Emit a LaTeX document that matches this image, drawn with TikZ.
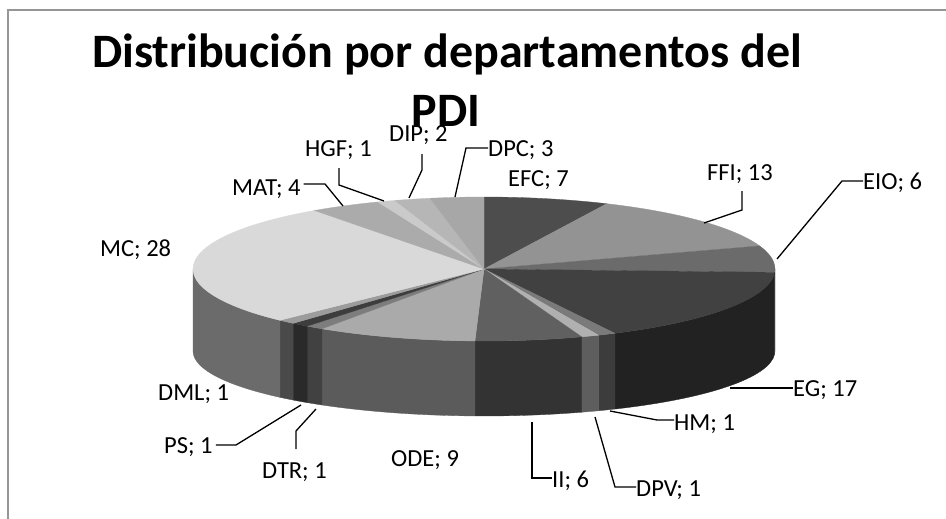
\documentclass[tikz,border=0pt]{standalone}
\usepackage{fontspec}
\setmainfont{Carlito}
\newfontfamily\titlefont{Carlito}
\usetikzlibrary{calc}
\definecolor{framecol}{HTML}{969696}
\definecolor{tEFC}{HTML}{4D4D4D}
\definecolor{tFFI}{HTML}{939393}
\definecolor{tEIO}{HTML}{6B6B6B}
\definecolor{tEG}{HTML}{414141}
\definecolor{tHM}{HTML}{7A7A7A}
\definecolor{tDPV}{HTML}{B0B0B0}
\definecolor{tII}{HTML}{606060}
\definecolor{tODE}{HTML}{AAAAAA}
\definecolor{tDTR}{HTML}{7D7D7D}
\definecolor{tPS}{HTML}{3D3D3D}
\definecolor{tDML}{HTML}{9C9C9C}
\definecolor{tMC}{HTML}{D9D9D9}
\definecolor{tMAT}{HTML}{ABABAB}
\definecolor{tHGF}{HTML}{CACACA}
\definecolor{tDIP}{HTML}{B6B6B6}
\definecolor{tDPC}{HTML}{A7A7A7}
\definecolor{sEIO}{HTML}{4B4B4B}
\definecolor{sEG}{HTML}{222222}
\definecolor{sHM}{HTML}{3C3C3C}
\definecolor{sDPV}{HTML}{5E5E5E}
\definecolor{sII}{HTML}{333333}
\definecolor{sODE}{HTML}{5B5B5B}
\definecolor{sDTR}{HTML}{414141}
\definecolor{sPS}{HTML}{2A2A2A}
\definecolor{sDML}{HTML}{4A4A4A}
\definecolor{sMC}{HTML}{6B6B6B}
\begin{document}
\begin{tikzpicture}[x=1pt,y=-1pt,
  lbl/.style={font=\fontsize{24.5}{28}\selectfont, inner sep=0pt, anchor=base west},
  ttl/.style={font=\titlefont\bfseries\fontsize{48}{54}\selectfont, inner sep=0pt, anchor=base},
  leader/.style={draw=black, line width=1.3pt},
  ]
\def\cx{484}\def\cy{269}\def\rx{291}\def\ry{72}\def\by{351}\def\bry{65}
\useasboundingbox (0,0) rectangle (946,519);
\fill[white] (0,0) rectangle (946,519);
\draw[framecol, line width=2pt] (946,10) -- (8,10) -- (8,519);
% side faces
\foreach \a/\b/\col in {0/2.673/sEIO, 2.673/63.267/sEG, 63.267/66.832/sHM, 66.832/70.396/sDPV,
  70.396/91.782/sII, 91.782/123.861/sODE, 123.861/127.426/sDTR, 127.426/130.990/sPS,
  130.990/134.554/sDML, 134.554/180/sMC}{
  \fill[\col, draw=\col, line width=0.3pt] ({\cx+\rx*cos(\a)},{\cy+\ry*sin(\a)})
    arc[start angle=\a, end angle=\b, x radius=\rx, y radius=\ry]
    -- ({\cx+\rx*cos(\b)},{\by+\bry*sin(\b)})
    arc[start angle=\b, end angle=\a, x radius=\rx, y radius=\bry] -- cycle;
}
% top faces
\foreach \a/\b/\col in {-90/-65.050/tEFC, -65.050/-18.713/tFFI, -18.713/2.673/tEIO,
  2.673/63.267/tEG, 63.267/66.832/tHM, 66.832/70.396/tDPV, 70.396/91.782/tII,
  91.782/123.861/tODE, 123.861/127.426/tDTR, 127.426/130.990/tPS, 130.990/134.554/tDML,
  134.554/234.356/tMC, 234.356/248.614/tMAT, 248.614/252.178/tHGF, 252.178/259.307/tDIP,
  259.307/270/tDPC}{
  \fill[\col, draw=\col, line width=0.3pt] (\cx,\cy) -- ({\cx+\rx*cos(\a)},{\cy+\ry*sin(\a)})
    arc[start angle=\a, end angle=\b, x radius=\rx, y radius=\ry] -- cycle;
}
% title
\node[ttl] (title1) at (447,68) {Distribución por departamentos del};
\node[ttl] (title2) at (446,126) {PDI};
% labels
\node[lbl] (lDIP) at (389,141) {DIP; 2};
\node[lbl] (lHGF) at (305,156) {HGF; 1};
\node[lbl] (lDPC) at (488,156) {DPC; 3};
\node[lbl] (lEFC) at (508,186) {EFC; 7};
\node[lbl] (lFFI) at (707,180) {FFI; 13};
\node[lbl] (lEIO) at (863,189) {EIO; 6};
\node[lbl] (lMAT) at (232,195) {MAT; 4};
\node[lbl] (lMC) at (100,256) {MC; 28};
\node[lbl] (lDML) at (158,400) {DML; 1};
\node[lbl] (lPS) at (164,453) {PS; 1};
\node[lbl] (lDTR) at (262,478) {DTR; 1};
\node[lbl] (lODE) at (391,466) {ODE; 9};
\node[lbl] (lII) at (552,487) {II; 6};
\node[lbl] (lDPV) at (636,496) {DPV; 1};
\node[lbl] (lHM) at (674,430) {HM; 1};
\node[lbl] (lEG) at (793,396) {EG; 17};
% leader end points
\coordinate (pFFI) at (704,223);
\coordinate (pEIO) at (777,259);
\coordinate (pEG) at (730,388);
\coordinate (pHM) at (610,411);
\coordinate (pDPV) at (595,417);
\coordinate (pII) at (532,422);
\coordinate (pDTR) at (316,409);
\coordinate (pPS) at (301,405);
\coordinate (pMAT) at (343,206);
\coordinate (pHGF) at (384,201);
\coordinate (pDIP) at (409,198);
\coordinate (pDPC) at (455,197);
\draw[leader] (742,191) -- (742,210) -- (pFFI);
\draw[leader] (lEIO.west |- 0,181) -- (842,181) -- (pEIO);
\draw[leader] (lEG.west |- 0,388) -- (pEG);
\draw[leader] (lHM.west |- 0,420) -- (657,420) -- (pHM);
\draw[leader] (lDPV.west |- 0,487) -- (615,487) -- (pDPV);
\draw[leader] (lII.west |- 0,478) -- (532,478) -- (pII);
\draw[leader] (296,449) -- (296,431) -- (pDTR);
\draw[leader] (lPS.east |- 0,445) ++(3,0) -- (236,445) -- (pPS);
\draw[leader] (lMAT.east |- 0,184) ++(3,0) -- (325,184) -- (pMAT);
\draw[leader] (339,168) -- (339,185) -- (pHGF);
\draw[leader] (422,154) -- (422,170) -- (pDIP);
\draw[leader] (lDPC.west |- 0,148) -- (466,148) -- (pDPC);
\end{tikzpicture}
\end{document}
